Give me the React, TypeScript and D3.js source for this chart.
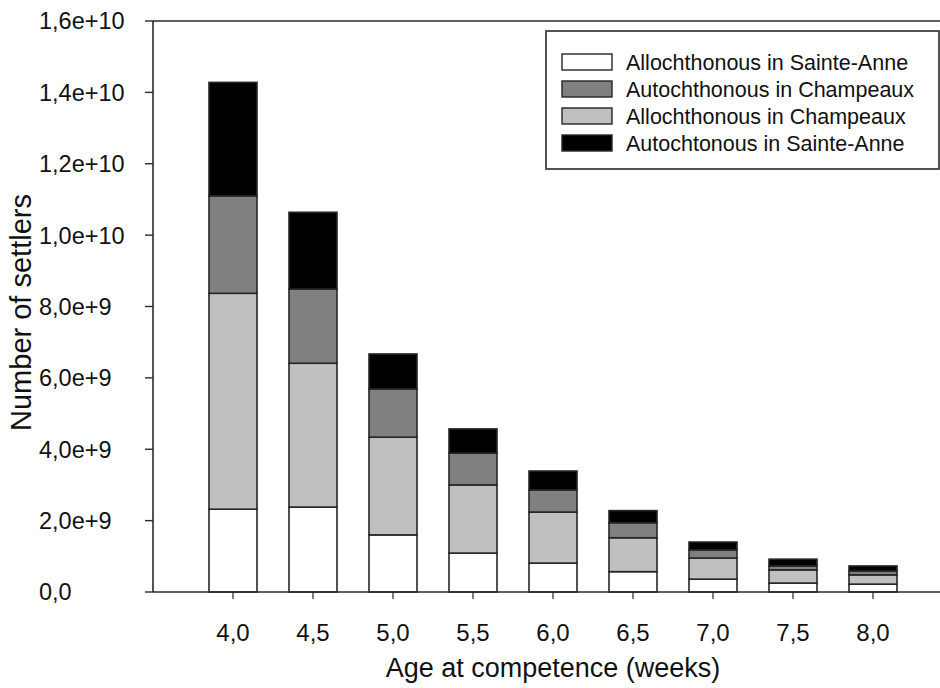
import React from 'react';
import * as d3 from 'd3';

// Age at competence (weeks)
const ages = [4.0, 4.5, 5.0, 5.5, 6.0, 6.5, 7.0, 7.5, 8.0];

// number of settlers per group (x 1e9), stacked bottom -> top
const alloSainteAnne = [2.32, 2.38, 1.6, 1.09, 0.81, 0.57, 0.36, 0.25, 0.22];
const alloChampeaux = [6.05, 4.03, 2.74, 1.91, 1.43, 0.95, 0.59, 0.37, 0.26];
const autoChampeaux = [2.73, 2.08, 1.35, 0.89, 0.62, 0.42, 0.23, 0.11, 0.11];
const autoSainteAnne = [3.18, 2.15, 0.98, 0.68, 0.53, 0.34, 0.22, 0.19, 0.14];

const yTicks = [0, 2e9, 4e9, 6e9, 8e9, 1e10, 1.2e10, 1.4e10, 1.6e10];

const seriesNames = [
  'Allochthonous in Sainte-Anne',
  'Allochthonous in Champeaux',
  'Autochthonous in Champeaux',
  'Autochtonous in Sainte-Anne',
];
// legend order as in the figure
const legendOrder = [0, 2, 1, 3];
const fills = ['#ffffff', '#c0c0c0', '#808080', '#000000'];

const W = 940, H = 688;
const margin = { top: 21, right: -13, bottom: 96, left: 153 };

export default function App() {
  const rows = ages.map((a, i) => ({
    age: a,
    s0: alloSainteAnne[i] * 1e9,
    s1: alloChampeaux[i] * 1e9,
    s2: autoChampeaux[i] * 1e9,
    s3: autoSainteAnne[i] * 1e9,
  }));
  const stack = d3.stack<any>().keys(['s0', 's1', 's2', 's3']);
  const layers = stack(rows);

  const x = d3.scaleLinear().domain([3.5, 8.5]).range([margin.left, W - margin.right]);
  const y = d3.scaleLinear().domain([0, 1.6e10]).range([H - margin.bottom, margin.top]);
  const barW = x(4.3) - x(4.0);

  const fmt = (v: number) => (v === 0 ? '0,0' : d3.format('.1e')(v).replace('.', ','));
  const font = 'Liberation Sans, Arial, sans-serif';
  const axisColor = '#2a2a2a';

  const x0 = x.range()[0], x1 = x.range()[1];
  const yb = y(0), yt = y(1.6e10);

  return (
    <svg width={W} height={H} style={{ position: 'absolute', left: 0, top: 0, background: '#fff' }} fontFamily={font}>
      {/* bars */}
      {layers.map((layer, li) => (
        <g key={li}>
          {layer.map((d, i) => (
            <rect
              key={i}
              x={x(ages[i]) - barW / 2}
              y={y(d[1])}
              width={barW}
              height={y(d[0]) - y(d[1])}
              fill={fills[li]}
              stroke="#262626"
              strokeWidth={1.6}
            />
          ))}
        </g>
      ))}

      {/* frame */}
      <line x1={x0} x2={x1} y1={yt} y2={yt} stroke={axisColor} strokeWidth={1.6} />
      <line x1={x0} x2={x1} y1={yb} y2={yb} stroke={axisColor} strokeWidth={1.6} />
      <line x1={x0} x2={x0} y1={yt} y2={yb} stroke={axisColor} strokeWidth={1.6} />

      {/* y ticks */}
      {yTicks.map((t) => (
        <g key={t}>
          <line x1={x0 - 8} x2={x0} y1={y(t)} y2={y(t)} stroke={axisColor} strokeWidth={1.4} />
          <text x={39} y={y(t)} dy="0.36em" fontSize={23.5} fill="#111">
            {fmt(t)}
          </text>
        </g>
      ))}

      {/* x ticks */}
      {ages.map((a) => (
        <g key={a}>
          <line x1={x(a)} x2={x(a)} y1={yb} y2={yb + 7} stroke={axisColor} strokeWidth={1.2} />
          <text x={x(a)} y={yb + 49} textAnchor="middle" fontSize={24} fill="#111">
            {d3.format('.1f')(a).replace('.', ',')}
          </text>
        </g>
      ))}

      {/* axis titles */}
      <text x={(x0 + 953) / 2} y={677} textAnchor="middle" fontSize={27} fill="#111">
        Age at competence (weeks)
      </text>
      <text
        transform={`translate(31,${(yt + yb) / 2 + 6}) rotate(-90)`}
        textAnchor="middle"
        fontSize={29}
        fill="#111"
      >
        Number of settlers
      </text>

      {/* legend */}
      <rect x={546} y={31} width={393} height={138} fill="#fff" stroke={axisColor} strokeWidth={1.6} />
      {legendOrder.map((si, k) => (
        <g key={si} transform={`translate(562,${62 + k * 27})`}>
          <rect x={0} y={-8} width={50} height={16} fill={fills[si]} stroke="#262626" strokeWidth={1.4} />
          <text x={64} y={0} dy="0.36em" fontSize={21.5} fill="#111">
            {seriesNames[si]}
          </text>
        </g>
      ))}
    </svg>
  );
}
